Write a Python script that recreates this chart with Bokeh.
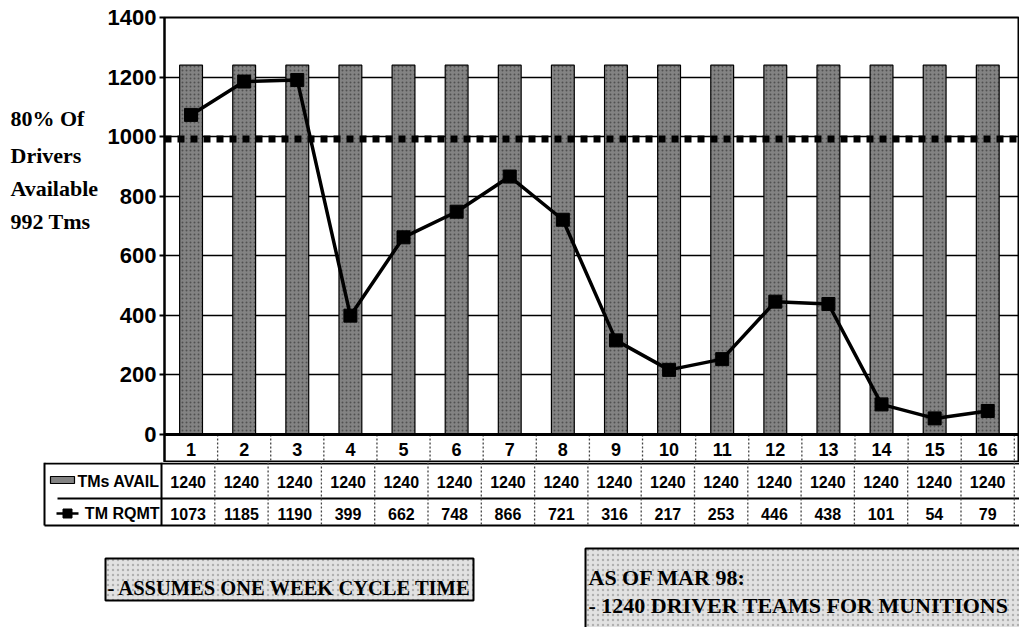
from bokeh.plotting import figure
from bokeh.layouts import column, row
from bokeh.models import Range1d, FixedTicker, Span
from bokeh.embed import file_html
from bokeh.resources import INLINE
from bokeh.core.properties import value

# ---------------- data ----------------
categories = list(range(1, 17))
tick_labels = [str(c) for c in categories]
tms_avail = [1240] * 16
tm_rqmt = [1073, 1185, 1190, 399, 662, 748, 866, 721, 316, 217, 253, 446, 438, 101, 54, 79]
threshold = 992
y_ticks = [0, 200, 400, 600, 800, 1000, 1200, 1400]
series_names = ["TMs AVAIL", "TM RQMT"]
side_note = ["80% Of", "Drivers", "Available", "992 Tms"]
note_left = "- ASSUMES ONE  WEEK CYCLE TIME"
note_right = ["AS OF MAR 98:", "- 1240 DRIVER TEAMS FOR MUNITIONS"]

# ---------------- layout constants (pixels) ----------------
PAGE_W = 1019
SIDE_W = 104               # figure holding the side note
FRAME_X = 161              # page x of the chart frame's left edge
COL = 53.3                 # pixels per category
X_END = 0.5 + (PAGE_W - FRAME_X) / COL
TOP_PAD = 17
ZERO_Y = 434               # page y of the value 0
PX_PER_UNIT = (ZERO_Y - TOP_PAD) / 1400
MAIN_H = 462               # frame reaches page y = 462 (bottom of header row)
Y_MIN = 1400 - (MAIN_H - TOP_PAD) / PX_PER_UNIT
BOT_H = 627 - MAIN_H
XS = 0.5 - FRAME_X / COL

SANS = "Liberation Sans"
SERIF = "Liberation Serif"
BAR_FILL = "#838383"


def mx(px):   # page x -> data x on the shared category scale
    return 0.5 + (px - FRAME_X) / COL


def my(py):   # page y -> data y on main chart
    return (ZERO_Y - py) / PX_PER_UNIT


# ---------------- side note ----------------
s = figure(width=SIDE_W, height=MAIN_H, x_range=Range1d(0, SIDE_W), y_range=Range1d(MAIN_H, 0),
           output_backend="svg", toolbar_location=None, x_axis_location=None,
           y_axis_location=None, min_border=0, frame_align=False)
s.outline_line_color = None
s.grid.visible = False
s.text(x=[10] * 4, y=[118, 155, 188, 221], text=side_note, text_align="left",
       text_baseline="middle", text_font=value(SERIF), text_font_style="bold",
       text_font_size="22px", text_color="black")

# ---------------- main chart ----------------
p = figure(width=PAGE_W - SIDE_W, height=MAIN_H, x_range=Range1d(0.5, X_END),
           y_range=Range1d(Y_MIN, 1400), output_backend="svg", toolbar_location=None,
           x_axis_location=None, min_border_left=FRAME_X - SIDE_W, min_border_right=0,
           min_border_top=TOP_PAD, min_border_bottom=0, frame_align=False)
p.background_fill_color = "white"
p.border_fill_color = "white"
p.outline_line_color = "black"
p.outline_line_width = 2

p.yaxis.ticker = FixedTicker(ticks=y_ticks)
p.yaxis.axis_line_width = 2
p.yaxis.axis_line_color = "black"
p.yaxis.major_tick_in = 0
p.yaxis.major_tick_out = 5
p.yaxis.major_tick_line_width = 2
p.yaxis.minor_tick_line_color = None
p.yaxis.major_label_standoff = 3
p.yaxis.major_label_text_font = SANS
p.yaxis.major_label_text_font_style = "bold"
p.yaxis.major_label_text_font_size = "22px"
p.yaxis.major_label_text_color = "black"

p.xgrid.visible = False
p.ygrid.ticker = FixedTicker(ticks=y_ticks)
p.ygrid.grid_line_color = "black"
p.ygrid.grid_line_width = 1.5

p.vbar(x=categories, top=tms_avail, bottom=0, width=0.43, fill_color=BAR_FILL,
       line_color="black", line_width=1.2, hatch_pattern="dot", hatch_color="#2e2e2e",
       hatch_scale=4, hatch_alpha=0.6)

p.add_layout(Span(location=0, dimension="width", line_color="black", line_width=3))
p.add_layout(Span(location=threshold, dimension="width", line_color="black",
                  line_width=7, line_dash="7 6"))

p.line(categories, tm_rqmt, line_color="black", line_width=3.5)
p.scatter(categories, tm_rqmt, marker="square", size=13, fill_color="black", line_color="black")

# header row of the data table (category numbers)
bounds = [c + 0.5 for c in categories]
p.segment(x0=bounds, y0=[0] * 16, x1=bounds, y1=[Y_MIN] * 16,
          line_color="#444444", line_width=1.3, line_dash="2 2")
p.text(x=categories, y=[my(449)] * 16, text=tick_labels, text_align="center",
       text_baseline="middle", text_font=value(SANS), text_font_style="bold",
       text_font_size="18px", text_color="black")

# ---------------- table rows + notes ----------------
q = figure(width=PAGE_W, height=BOT_H, x_range=Range1d(XS, X_END), y_range=Range1d(BOT_H, 0),
           output_backend="svg", toolbar_location=None, x_axis_location=None,
           y_axis_location=None, min_border=0, frame_align=False)
q.outline_line_color = None
q.background_fill_color = "white"
q.border_fill_color = "white"
q.grid.visible = False

ROW1, DIV, ROW2, BOT = 19, 36, 51, 63
x_right = X_END + 0.2
# horizontal borders
q.segment(x0=[mx(44), mx(57), mx(44)], y0=[1, DIV, BOT], x1=[x_right] * 3, y1=[1, DIV, BOT],
          line_color="black", line_width=2)
# left border and axis continuation
q.segment(x0=[mx(44), 0.5], y0=[0, 0], x1=[mx(44), 0.5], y1=[BOT, BOT],
          line_color="black", line_width=2)
# column dividers
q.segment(x0=bounds, y0=[0] * 16, x1=bounds, y1=[BOT] * 16, line_color="#444444",
          line_width=1.3, line_dash="2 2")

q.text(x=categories, y=[ROW1] * 16, text=[str(v) for v in tms_avail], text_align="center",
       text_baseline="middle", text_font=value(SANS), text_font_style="bold",
       text_font_size="16px", text_color="black")
q.text(x=categories, y=[ROW2] * 16, text=[str(v) for v in tm_rqmt], text_align="center",
       text_baseline="middle", text_font=value(SANS), text_font_style="bold",
       text_font_size="16px", text_color="black")

# row labels with legend keys
q.text(x=[mx(159)] * 2, y=[ROW1, ROW2], text=series_names, text_align="right",
       text_baseline="middle", text_font=value(SANS), text_font_style="bold",
       text_font_size="16px", text_color="black")
q.quad(left=[mx(50)], right=[mx(74)], top=[ROW1 - 5], bottom=[ROW1 + 2], fill_color=BAR_FILL,
       line_color="black", line_width=1.2)
q.line([mx(56), mx(78)], [ROW2, ROW2], line_color="black", line_width=2.5)
q.scatter([mx(67)], [ROW2], marker="square", size=9, fill_color="black", line_color="black")

# note boxes
q.quad(left=[mx(105), mx(585)], right=[mx(473), x_right], top=[96, 86], bottom=[138, 175],
       fill_color="#e2e2e2", line_color="black", line_width=2, hatch_pattern="dot",
       hatch_color="#b0b0b0", hatch_scale=5)
q.text(x=[mx(107)], y=[125], text=[note_left], text_align="left", text_baseline="middle",
       text_font=value(SERIF), text_font_style="bold", text_font_size="20.5px",
       text_color="black")
q.text(x=[mx(588), mx(588)], y=[115, 143], text=note_right, text_align="left",
       text_baseline="middle", text_font=value(SERIF), text_font_style="bold",
       text_font_size="22px", text_color="black")

layout = column(row(s, p, spacing=0), q, spacing=0)
open("out.html", "w").write(file_html(layout, INLINE))
